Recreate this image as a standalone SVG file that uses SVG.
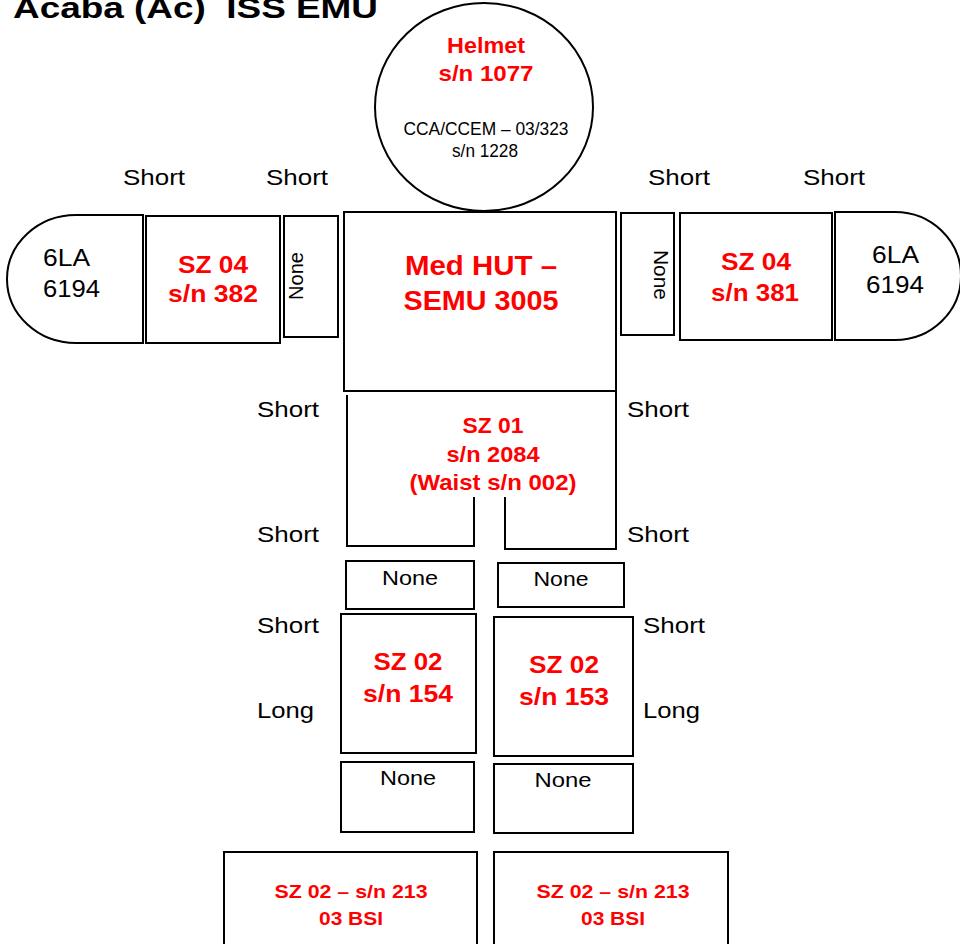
<svg xmlns="http://www.w3.org/2000/svg" width="960" height="944" viewBox="0 0 960 944">
<style>
.s{fill:#fff;stroke:#000;stroke-width:2}
.l{fill:none;stroke:#000;stroke-width:2}
.t{font-family:"Liberation Sans",Arial,sans-serif;fill:#000}
.r{font-family:"Liberation Sans",Arial,sans-serif;font-weight:bold;fill:#ff0000;text-anchor:middle}
.c{text-anchor:middle}
.n{font-family:"Liberation Sans Narrow","Liberation Sans",Arial,sans-serif;fill:#000;text-anchor:middle}
</style>
<rect width="960" height="944" fill="#fff"/>
<text id="title" class="t" x="13" y="18" font-size="30" font-weight="bold" textLength="365" lengthAdjust="spacingAndGlyphs">Acaba (Ac)&#160; ISS EMU</text>

<g id="helmet">
<ellipse class="s" cx="484" cy="107" rx="109" ry="104"/>
<text class="r" x="486" y="53" font-size="22" textLength="78" lengthAdjust="spacingAndGlyphs">Helmet</text>
<text class="r" x="486" y="81" font-size="22" textLength="95" lengthAdjust="spacingAndGlyphs">s/n 1077</text>
<text class="n" x="486" y="135" font-size="19" textLength="165" lengthAdjust="spacingAndGlyphs">CCA/CCEM – 03/323</text>
<text class="n" x="485" y="157" font-size="19" textLength="66" lengthAdjust="spacingAndGlyphs">s/n 1228</text>
</g>

<g id="labels">
<text class="t" x="123" y="185" font-size="22" textLength="62" lengthAdjust="spacingAndGlyphs">Short</text>
<text class="t" x="266" y="185" font-size="22" textLength="62" lengthAdjust="spacingAndGlyphs">Short</text>
<text class="t" x="648" y="185" font-size="22" textLength="62" lengthAdjust="spacingAndGlyphs">Short</text>
<text class="t" x="803" y="185" font-size="22" textLength="62" lengthAdjust="spacingAndGlyphs">Short</text>
<text class="t" x="257" y="417" font-size="22" textLength="62" lengthAdjust="spacingAndGlyphs">Short</text>
<text class="t" x="627" y="417" font-size="22" textLength="62" lengthAdjust="spacingAndGlyphs">Short</text>
<text class="t" x="257" y="542" font-size="22" textLength="62" lengthAdjust="spacingAndGlyphs">Short</text>
<text class="t" x="627" y="542" font-size="22" textLength="62" lengthAdjust="spacingAndGlyphs">Short</text>
<text class="t" x="257" y="633" font-size="22" textLength="62" lengthAdjust="spacingAndGlyphs">Short</text>
<text class="t" x="643" y="633" font-size="22" textLength="62" lengthAdjust="spacingAndGlyphs">Short</text>
<text class="t" x="257" y="718" font-size="22" textLength="57" lengthAdjust="spacingAndGlyphs">Long</text>
<text class="t" x="643" y="718" font-size="22" textLength="57" lengthAdjust="spacingAndGlyphs">Long</text>
</g>

<g id="glove-left">
<path class="s" d="M143,215 H76 A69,64 0 0 0 76,343 H143 Z"/>
<text class="t" x="43" y="266" font-size="24" textLength="47" lengthAdjust="spacingAndGlyphs">6LA</text>
<text class="t" x="43" y="297" font-size="24" textLength="57" lengthAdjust="spacingAndGlyphs">6194</text>
</g>

<g id="arm-left">
<rect class="s" x="146" y="216" width="134" height="127"/>
<text class="r" x="213" y="273" font-size="24" textLength="70" lengthAdjust="spacingAndGlyphs">SZ 04</text>
<text class="r" x="213" y="302" font-size="24" textLength="90" lengthAdjust="spacingAndGlyphs">s/n 382</text>
</g>

<g id="none-left-arm">
<rect class="s" x="284" y="216" width="54" height="121"/>
<text class="t c" transform="translate(303,276) rotate(-90)" x="0" y="0" font-size="20" textLength="48" lengthAdjust="spacingAndGlyphs">None</text>
</g>

<g id="hut">
<rect class="s" x="344" y="212" width="272" height="179"/>
<text class="r" x="481" y="275" font-size="27" textLength="152" lengthAdjust="spacingAndGlyphs">Med HUT –</text>
<text class="r" x="481" y="310" font-size="27" textLength="155" lengthAdjust="spacingAndGlyphs">SEMU 3005</text>
</g>

<g id="none-right-arm">
<rect class="s" x="621" y="213" width="53" height="122"/>
<text class="t c" transform="translate(654,275) rotate(90)" x="0" y="0" font-size="20" textLength="50" lengthAdjust="spacingAndGlyphs">None</text>
</g>

<g id="arm-right">
<rect class="s" x="680" y="213" width="152" height="127"/>
<text class="r" x="756" y="270" font-size="24" textLength="70" lengthAdjust="spacingAndGlyphs">SZ 04</text>
<text class="r" x="755" y="301" font-size="24" textLength="88" lengthAdjust="spacingAndGlyphs">s/n 381</text>
</g>

<g id="glove-right">
<path class="s" d="M835,212 H895 A66,64 0 0 1 895,340 H835 Z"/>
<text class="t" x="872" y="263" font-size="24" textLength="47" lengthAdjust="spacingAndGlyphs">6LA</text>
<text class="t" x="866" y="293" font-size="24" textLength="58" lengthAdjust="spacingAndGlyphs">6194</text>
</g>

<g id="lta">
<path class="l" d="M347,395 V546 H474 V497"/>
<path class="l" d="M505,497 V549 H616 V391"/>
<text class="r" x="493" y="433" font-size="22" textLength="61" lengthAdjust="spacingAndGlyphs">SZ 01</text>
<text class="r" x="493" y="462" font-size="22" textLength="93" lengthAdjust="spacingAndGlyphs">s/n 2084</text>
<text class="r" x="493" y="490" font-size="22" textLength="167" lengthAdjust="spacingAndGlyphs">(Waist s/n 002)</text>
</g>

<g id="none-upper-left">
<rect class="s" x="346" y="561" width="128" height="48"/>
<text class="t c" x="410" y="585" font-size="21" textLength="56" lengthAdjust="spacingAndGlyphs">None</text>
</g>
<g id="none-upper-right">
<rect class="s" x="498" y="563" width="126" height="44"/>
<text class="t c" x="561" y="586" font-size="21" textLength="55" lengthAdjust="spacingAndGlyphs">None</text>
</g>

<g id="leg-left">
<rect class="s" x="341" y="614" width="135" height="139"/>
<text class="r" x="408" y="670" font-size="24" textLength="69" lengthAdjust="spacingAndGlyphs">SZ 02</text>
<text class="r" x="408" y="702" font-size="24" textLength="90" lengthAdjust="spacingAndGlyphs">s/n 154</text>
</g>
<g id="leg-right">
<rect class="s" x="494" y="617" width="139" height="139"/>
<text class="r" x="564" y="673" font-size="24" textLength="70" lengthAdjust="spacingAndGlyphs">SZ 02</text>
<text class="r" x="564" y="705" font-size="24" textLength="90" lengthAdjust="spacingAndGlyphs">s/n 153</text>
</g>

<g id="none-lower-left">
<rect class="s" x="341" y="762" width="133" height="70"/>
<text class="t c" x="408" y="785" font-size="21" textLength="56" lengthAdjust="spacingAndGlyphs">None</text>
</g>
<g id="none-lower-right">
<rect class="s" x="494" y="764" width="139" height="69"/>
<text class="t c" x="563" y="787" font-size="21" textLength="57" lengthAdjust="spacingAndGlyphs">None</text>
</g>

<g id="boot-left">
<rect class="s" x="224" y="852" width="253" height="110"/>
<text class="r" x="351" y="898" font-size="19" textLength="153" lengthAdjust="spacingAndGlyphs">SZ 02 – s/n 213</text>
<text class="r" x="351" y="925" font-size="19" textLength="64" lengthAdjust="spacingAndGlyphs">03 BSI</text>
</g>
<g id="boot-right">
<rect class="s" x="494" y="852" width="234" height="110"/>
<text class="r" x="613" y="898" font-size="19" textLength="153" lengthAdjust="spacingAndGlyphs">SZ 02 – s/n 213</text>
<text class="r" x="613" y="925" font-size="19" textLength="64" lengthAdjust="spacingAndGlyphs">03 BSI</text>
</g>
</svg>
